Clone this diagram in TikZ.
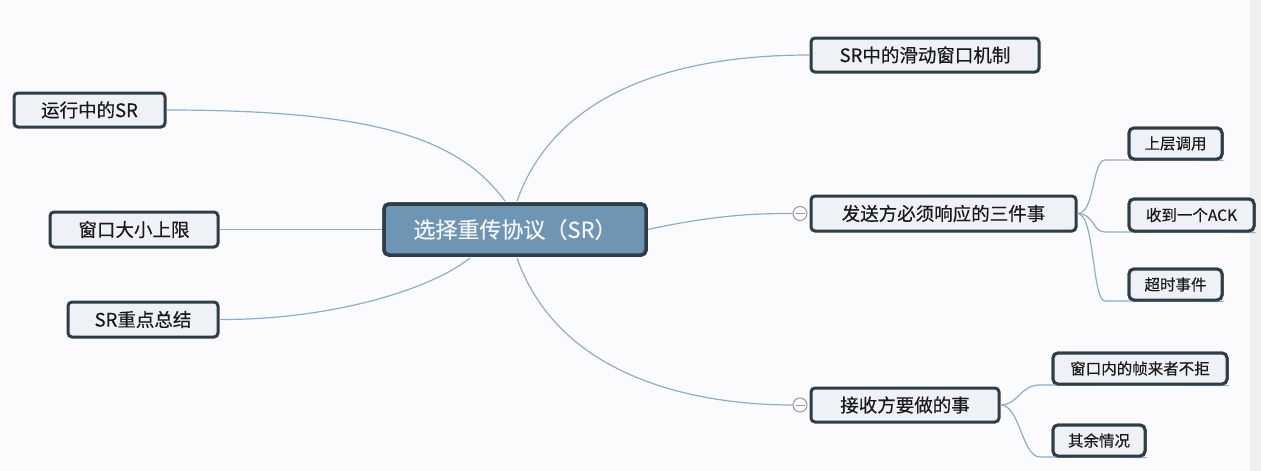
\documentclass[tikz,border=0pt]{standalone}
\usepackage{fontspec}
\setmainfont{Noto Sans CJK SC}[FakeBold=0.4]
\begin{document}
\begin{tikzpicture}[x=1pt,y=-1pt,
  line/.style={draw=lineblue,line width=1.2pt},
  centerbox/.style={draw=borderc,line width=3.5pt,fill=centerfill,rounded corners=5pt,minimum width=262pt,minimum height=51pt,inner sep=0pt,font=\fontsize{22}{22}\selectfont,text=white!96!black},
  topic/.style={draw=borderc,line width=3pt,fill=nodefill,rounded corners=4pt,inner sep=0pt,font=\fontsize{18.5}{19}\selectfont,text=black!90},
  sub/.style={draw=borderc,line width=3pt,fill=nodefill,rounded corners=5pt,inner sep=0pt,font=\fontsize{15.5}{16}\selectfont,text=black!90},
  collapse/.style={circle,draw=gray!80,line width=1pt,fill=white,minimum size=14pt,inner sep=0pt}]
\definecolor{lineblue}{HTML}{8FAEC6}
\definecolor{borderc}{HTML}{2F3D49}
\definecolor{nodefill}{HTML}{EEF2F7}
\definecolor{centerfill}{HTML}{6E96B4}
\definecolor{bg}{HTML}{FBFBFD}
\fill[bg] (0,0) rectangle (1261,471);
\useasboundingbox (0,0) rectangle (1261,471);
\fill[gray!12] (1250,0) rectangle (1261,471);

% center
\node[centerbox] (c) at (515,229.5) {选择重传协议（SR）};

% right topics
\node[topic,minimum width=228pt,minimum height=34pt] (t1) at (925,55) {SR中的滑动窗口机制};
\node[topic,minimum width=265pt,minimum height=35pt] (t2) at (943.5,213.5) {发送方必须响应的三件事};
\node[topic,minimum width=188pt,minimum height=34pt] (t3) at (905,405) {接收方要做的事};

% left topics
\node[topic,minimum width=151pt,minimum height=34pt] (l1) at (89.5,110) {运行中的SR};
\node[topic,minimum width=168pt,minimum height=35pt] (l2) at (134,229.5) {窗口大小上限};
\node[topic,minimum width=150pt,minimum height=35pt] (l3) at (143,319.5) {SR重点总结};

% sub nodes
\node[sub,minimum width=93pt,minimum height=31pt] (s1) at (1175.5,143.5) {上层调用};
\node[sub,minimum width=125pt,minimum height=32pt] (s2) at (1191.5,215) {收到一个ACK};
\node[sub,minimum width=93pt,minimum height=31pt] (s3) at (1175.5,284.5) {超时事件};
\node[sub,minimum width=174pt,minimum height=31pt] (r1) at (1140,368.5) {窗口内的帧来者不拒};
\node[sub,minimum width=92pt,minimum height=31pt] (r2) at (1099,440.5) {其余情况};

% collapse markers
\node[collapse] (k2) at (800,213.5) {};
\node[collapse] (k3) at (800,405) {};
\draw[gray!80,line width=1pt] ([xshift=-4.5pt]k2.center) -- ([xshift=4.5pt]k2.center);
\draw[gray!80,line width=1pt] ([xshift=-4.5pt]k3.center) -- ([xshift=4.5pt]k3.center);

% connectors from center
\coordinate (ct) at (517,201);
\coordinate (cb) at (517,258);
\coordinate (clt) at (505,201);
\coordinate (clb) at (470,258);
\path[line] (ct) .. controls (560,80) and (700,55) .. (t1.west);
\path[line] (c.east) .. controls (720,214) and (760,213.5) .. (k2.west);
\path[line] (cb) .. controls (560,380) and (700,405) .. (k3.west);
\path[line] (l1.east) .. controls (380,110) and (460,140) .. (clt);
\path[line] (l2.east) -- (c.west);
\path[line] (l3.east) .. controls (330,320) and (430,290) .. (clb);

% sender sub connectors
\coordinate (a1) at (1105,160);
\coordinate (a2) at (1105,232);
\coordinate (a3) at (1105,301);
\path[line] (t2.east) .. controls (1095,214) and (1092,160) .. (a1) -- (s1.south east);
\path[line] (t2.east) .. controls (1095,214) and (1092,232) .. (a2) -- (s2.south east);
\path[line] (t2.east) .. controls (1095,214) and (1092,301) .. (a3) -- (s3.south east);

% receiver sub connectors
\coordinate (b1) at (1040,385);
\coordinate (b2) at (1040,457);
\path[line] (t3.east) .. controls (1018,405) and (1020,385) .. (b1) -- (r1.south east);
\path[line] (t3.east) .. controls (1020,405) and (1022,457) .. (b2) -- (r2.south east);

% redraw nodes on top of lines
\node[centerbox] at (515,229.5) {选择重传协议（SR）};
\node[sub,minimum width=93pt,minimum height=31pt] at (1175.5,143.5) {上层调用};
\node[sub,minimum width=125pt,minimum height=32pt] at (1191.5,215) {收到一个ACK};
\node[sub,minimum width=93pt,minimum height=31pt] at (1175.5,284.5) {超时事件};
\node[sub,minimum width=174pt,minimum height=31pt] at (1140,368.5) {窗口内的帧来者不拒};
\node[sub,minimum width=92pt,minimum height=31pt] at (1099,440.5) {其余情况};
\end{tikzpicture}
\end{document}
